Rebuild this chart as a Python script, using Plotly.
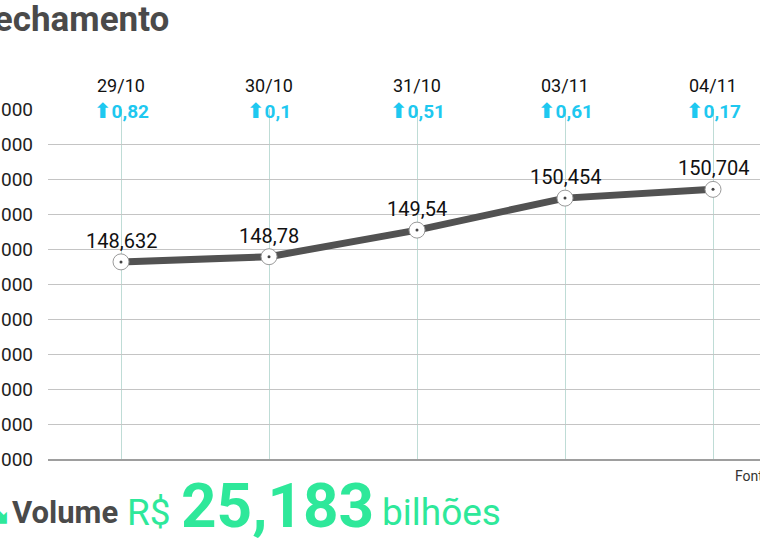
import plotly.graph_objects as go

dates = ["29/10", "30/10", "31/10", "03/11", "04/11"]
closes = [148.632, 148.78, 149.54, 150.454, 150.704]
close_labels = ["148,632", "148,78", "149,54", "150,454", "150,704"]
changes = ["0,82", "0,1", "0,51", "0,61", "0,17"]
y_ticks = [143, 144, 145, 146, 147, 148, 149, 150, 151, 152, 153]
y_tick_labels = ["143.000", "144.000", "145.000", "146.000", "147.000", "148.000",
                 "149.000", "150.000", "151.000", "152.000", "153.000"]
title_text = "Fechamento"
volume_value = "25,183"
source_text = "Fonte: B3"

W, H = 760, 541
L, R, T, B = 48, 0, 109, 82
PW, PH = W - L - R, H - T - B

def px(x):
    return (x - L) / PW

def py(y):
    return (H - B - y) / PH

x_idx = list(range(len(dates)))
GREEN = "#2EE89A"
CYAN = "#1EC8F0"

fig = go.Figure()
fig.add_trace(go.Scatter(
    x=x_idx, y=closes, mode="lines",
    line=dict(color="#525252", width=7), hoverinfo="skip"))
fig.add_trace(go.Scatter(
    x=x_idx, y=closes, mode="markers",
    marker=dict(symbol="circle", size=16, color="white",
                line=dict(color="#9a9a9a", width=1)), hoverinfo="skip"))
fig.add_trace(go.Scatter(
    x=x_idx, y=closes, mode="markers",
    marker=dict(symbol="circle", size=3, color="#444444"), hoverinfo="skip"))

ann = []
for i, (v, lab) in enumerate(zip(closes, close_labels)):
    ann.append(dict(x=i, y=v, xref="x", yref="y", text=lab, showarrow=False,
                    yshift=21, font=dict(family="Roboto", size=20, color="#111111")))
for i, (d, c) in enumerate(zip(dates, changes)):
    ann.append(dict(x=i, y=py(73), xref="x", yref="paper", text=d, showarrow=False,
                    font=dict(family="Roboto", size=18, color="#111111")))
    ann.append(dict(x=i, y=py(97), xref="x", yref="paper",
                    text="<span style='font-family:DejaVu Sans;font-weight:bold;font-size:21px'>⬆</span><b>" + c + "</b>",
                    showarrow=False,
                    font=dict(family="Roboto", size=19, color=CYAN)))

ann.append(dict(x=px(171), y=py(19), xref="paper", yref="paper", text="<b>" + title_text + "</b>",
                xanchor="right", yanchor="middle", showarrow=False,
                font=dict(family="Roboto", size=35, color="#4a4a4a")))
ann.append(dict(x=px(733), y=py(476), xref="paper", yref="paper", text=source_text,
                xanchor="left", yanchor="middle", showarrow=False,
                font=dict(family="Roboto", size=14, color="#333333")))
ann.append(dict(x=px(12), y=py(512), xref="paper", yref="paper", text="<b>⬊</b>",
                xanchor="right", yanchor="middle", showarrow=False,
                font=dict(family="DejaVu Sans", size=32, color=GREEN)))
ann.append(dict(x=px(10), y=py(512), xref="paper", yref="paper", text="<b>Volume</b>",
                xanchor="left", yanchor="middle", showarrow=False,
                font=dict(family="Roboto", size=31, color="#4a4a4a")))
ann.append(dict(x=px(125), y=py(512), xref="paper", yref="paper", text="R$",
                xanchor="left", yanchor="middle", showarrow=False,
                font=dict(family="Roboto", size=37, color=GREEN)))
ann.append(dict(x=px(179), y=py(505), xref="paper", yref="paper", text="<b>" + volume_value + "</b>",
                xanchor="left", yanchor="middle", showarrow=False,
                font=dict(family="Roboto", size=62, color=GREEN)))
ann.append(dict(x=px(380), y=py(512), xref="paper", yref="paper", text="bilhões",
                xanchor="left", yanchor="middle", showarrow=False,
                font=dict(family="Roboto", size=37, color=GREEN)))

fig.update_layout(
    width=W, height=H, template="none",
    margin=dict(l=L, r=R, t=T, b=B, pad=0),
    paper_bgcolor="white", plot_bgcolor="white",
    showlegend=False,
    annotations=ann,
    xaxis=dict(range=[-(121 - L) / 148, 4 + (W - 713) / 148], tickvals=x_idx,
               showticklabels=False, showgrid=True, gridcolor="#bfdcd6", gridwidth=1,
               zeroline=False, showline=True, linecolor="#9e9e9e", linewidth=2,
               ticks="", automargin=False, fixedrange=True),
    yaxis=dict(range=[143, 153], tickvals=y_ticks, ticktext=y_tick_labels,
               showgrid=True, gridcolor="#c4c4c4", gridwidth=1, zeroline=False,
               showline=False, ticks="", ticklabelstandoff=14,
               tickfont=dict(family="Roboto", size=19, color="#222222"),
               automargin=False, fixedrange=True),
)

fig.write_html("out.html", config={"displayModeBar": False},
               post_script="document.body.style.margin='0';document.body.style.overflow='hidden';")
